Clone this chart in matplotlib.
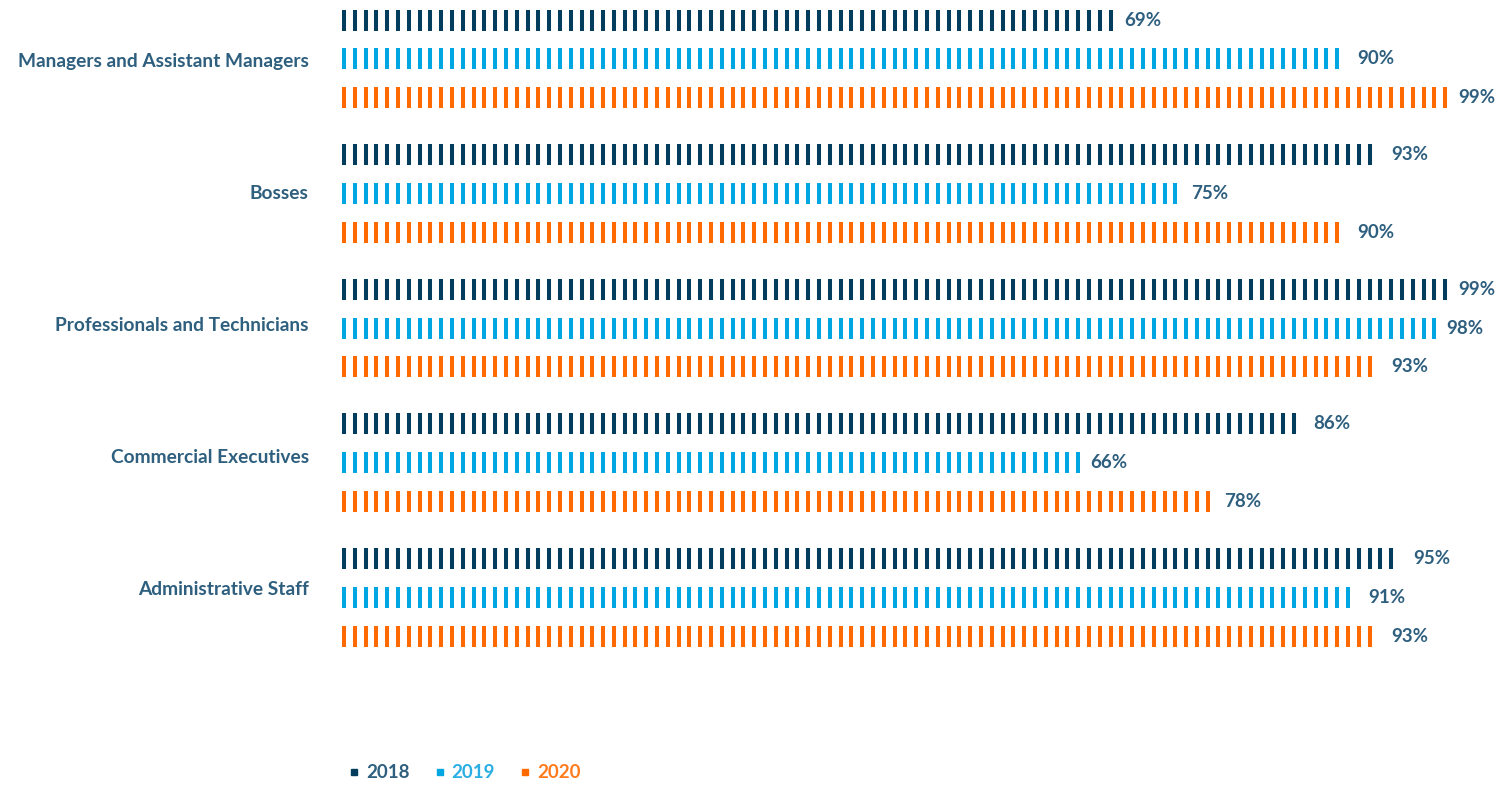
import numpy as np
import matplotlib
matplotlib.use("Agg")
import matplotlib.pyplot as plt
from matplotlib.lines import Line2D

categories = ["Managers and Assistant Managers", "Bosses", "Professionals and Technicians",
              "Commercial Executives", "Administrative Staff"]
years = ["2018", "2019", "2020"]
values_2018 = [69, 93, 99, 86, 95]
values_2019 = [90, 75, 98, 66, 91]
values_2020 = [99, 90, 93, 78, 93]

bar_colors = ["#033d5e", "#00a6e1", "#ff6a00"]
legend_text_colors = ["#2e5f7e", "#2aaee3", "#ff7b1c"]
label_color = "#2e5f7e"

series = [values_2018, values_2019, values_2020]

fig = plt.figure(figsize=(15, 7.85), dpi=100)
ax = fig.add_axes([342 / 1500, 0, 1113 / 1500, 1])

group_gap = 3.47
label_gap = 3.40
step = 0.97
half_h = 0.27
font = ["Lato", "DejaVu Sans"]

for i, cat in enumerate(categories):
    for j, vals in enumerate(series):
        v = vals[i]
        y = i * group_gap + j
        xs = np.arange(0, v + 1e-9, step) + 0.18
        xs = xs[xs <= v + 0.2]
        ax.vlines(xs, y - half_h, y + half_h, colors=bar_colors[j], linewidth=2.9,
                  capstyle="butt")
        ax.annotate(f"{v}%", xy=(v, y), xytext=(10, 0), textcoords="offset points",
                    ha="left", va="center", fontsize=13.5, fontweight="bold",
                    color=label_color, family=font)

ax.set_xlim(0, 100)
ax.set_ylim(19.72, -0.52)
ax.set_yticks([1.03 + i * label_gap for i in range(len(categories))])
ax.set_yticklabels(categories, fontsize=13.8, fontweight="bold", color=label_color,
                   family=font)
ax.tick_params(axis="y", length=0, pad=24)
ax.set_xticks([])
for s in ax.spines.values():
    s.set_visible(False)
ax.patch.set_alpha(0)

handles = [Line2D([0], [0], marker="s", linestyle="none", markersize=4.5,
                  markerfacecolor=c, markeredgecolor=c) for c in bar_colors]
leg = fig.legend(handles, years, loc="center left", bbox_to_anchor=(336 / 1500, 1 - 773 / 785),
                 ncol=3, frameon=False, handlelength=0.5, handletextpad=0.4,
                 columnspacing=1.35, borderpad=0.2,
                 prop={"family": font, "size": 13.5, "weight": "bold"})
for t, c in zip(leg.get_texts(), legend_text_colors):
    t.set_color(c)

fig.savefig("out.png", dpi=100, facecolor="white")
